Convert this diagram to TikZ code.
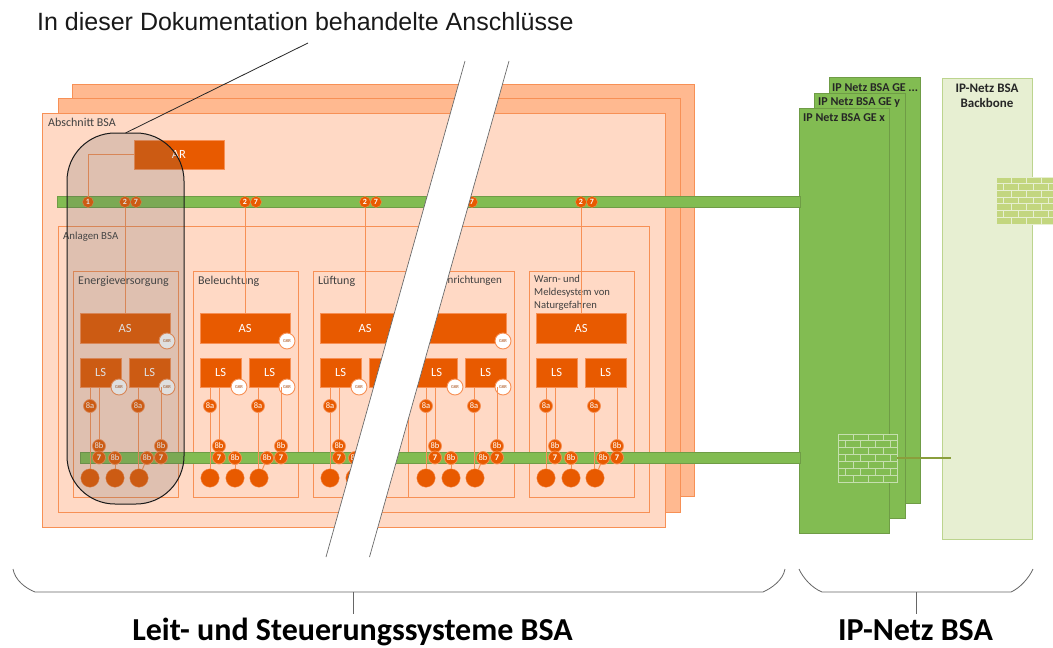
\documentclass[tikz,border=0pt]{standalone}
\usepackage{fontspec}
\setmainfont{Carlito}
\newfontfamily\arialfont{Liberation Sans}
\definecolor{orangeA}{HTML}{E85A00}
\definecolor{orangeL}{HTML}{F79055}
\definecolor{peach}{HTML}{FFD9C5}
\definecolor{peachD}{HTML}{FFB990}
\definecolor{greenA}{HTML}{82BC52}
\definecolor{greenD}{HTML}{6F9C46}
\definecolor{paleG}{HTML}{E7EFD2}
\definecolor{paleGD}{HTML}{BCD48E}
\definecolor{brickA}{HTML}{C5DFAE}
\definecolor{brickB}{HTML}{C3D67F}
\definecolor{linkG}{HTML}{8A9E3C}
\definecolor{bandE}{HTML}{6A6A6A}
\definecolor{overlay}{HTML}{5F5F5F}
\tikzset{
  x=1pt,y=-1pt,
  rectbase/.style={rectangle,inner sep=0pt,outer sep=0pt},
  backbox/.style={rectbase,fill=peachD,draw=orangeL,line width=1pt},
  frontbox/.style={rectbase,fill=peach,draw=orangeL,line width=1pt},
  groupbox/.style={rectbase,draw=orangeL,line width=1pt},
  solid box/.style={rectbase,fill=orangeA,draw=orangeL,line width=.5pt,text=white,font=\fontsize{12.5}{14}\selectfont},
  badge/.style={circle,fill=orangeA,draw=orangeL,line width=.7pt,inner sep=0pt,outer sep=0pt,minimum size=13pt,text=white,font=\fontsize{8.5}{9}\selectfont},
  topbadge/.style={circle,fill=orangeA,draw=orangeL,line width=.3pt,inner sep=0pt,outer sep=0pt,minimum size=11pt,text=white,font=\bfseries\fontsize{8}{9}\selectfont},
  endpoint/.style={circle,fill=orangeA,draw=orangeL,line width=.3pt,inner sep=0pt,outer sep=0pt,minimum size=18.5pt},
  okr/.style={circle,fill=white,draw=orangeL,line width=.9pt,inner sep=0pt,outer sep=0pt,minimum size=16pt,text=orangeA!70!black,font=\fontsize{4.5}{5}\selectfont},
  conn/.style={draw=orangeL,line width=1pt},
  lbl/.style={anchor=west,inner sep=0pt,text=black!75,font=\fontsize{12}{13}\selectfont},
  greenbar/.style={rectbase,fill=greenA,draw=greenD,line width=.6pt},
  ipbox/.style={rectbase,fill=greenA,draw=greenD,line width=.8pt},
  iplbl/.style={anchor=west,inner sep=0pt,text=black!85,font=\bfseries\fontsize{12}{13}\selectfont},
  bracket/.style={draw=black!60,line width=.8pt},
  biglbl/.style={anchor=base,inner sep=0pt,text=black,font=\bfseries\fontsize{32}{34}\selectfont},
}
% name, x1, y1, x2, y2, style, text
\newcommand{\rbox}[7]{%
  \pgfmathsetmacro{\rbw}{#4-#2}\pgfmathsetmacro{\rbh}{#5-#3}%
  \pgfmathsetmacro{\rbx}{(#2+#4)/2}\pgfmathsetmacro{\rby}{(#3+#5)/2}%
  \node[#6,minimum width=\rbw pt,minimum height=\rbh pt] (#1) at (\rbx,\rby) {#7};}
% name, x1, y1, x2, y2, fill, line
\newcommand{\brickwall}[7]{%
  \rbox{#1}{#2}{#3}{#4}{#5}{rectbase,fill=#6,draw=#7,line width=1pt}{}%
  \begin{scope}
    \clip (#2,#3) rectangle (#4,#5);
    \pgfmathsetmacro{\rowh}{(#5-#3)/7}
    \foreach \r in {1,...,6}{\pgfmathsetmacro{\yy}{#3+\r*\rowh}\draw[#7,line width=1pt] (#2,\yy) -- (#4,\yy);}
    \foreach \r in {0,...,6}{
      \pgfmathsetmacro{\yya}{#3+\r*\rowh}\pgfmathsetmacro{\yyb}{\yya+\rowh}
      \pgfmathsetmacro{\shift}{mod(\r,2)*7.5}
      \foreach \c in {0,...,4}{\pgfmathsetmacro{\xx}{#2+\shift+\c*15}\draw[#7,line width=1pt] (\xx,\yya) -- (\xx,\yyb);}
    }
  \end{scope}}
\begin{document}
\begin{tikzpicture}
\useasboundingbox (0,0) rectangle (1053,648);
\clip (0,0) rectangle (1053,648);
\fill[white] (0,0) rectangle (1053,648);
% IP network boxes
\rbox{ipC}{829}{77}{920}{503}{ipbox}{}
\rbox{ipB}{814}{93}{905}{518}{ipbox}{}
\rbox{ipA}{799}{108}{889}{533}{ipbox}{}
\node[iplbl] (ipCt) at (832,88) {IP Netz BSA GE ...};
\node[iplbl] (ipBt) at (818,103) {IP Netz BSA GE y};
\node[iplbl] (ipAt) at (803,118) {IP Netz BSA GE x};
\rbox{bb}{942}{78}{1032}{539}{rectbase,fill=paleG,draw=paleGD,line width=1pt}{}
\node[inner sep=0pt,align=center,text=black!85,font=\bfseries\fontsize{13}{15.5}\selectfont] (bbt) at (987,96) {IP-Netz BSA\\Backbone};
% orange layers
\rbox{layC}{72}{84}{694}{496}{backbox}{}
\rbox{layB}{58}{98}{680}{512}{backbox}{}
\rbox{layA}{42}{113}{665}{527}{frontbox}{}
\node[lbl] (abt) at (48,122) {Abschnitt BSA};
\rbox{anl}{58}{226}{649}{512}{groupbox}{}
\node[lbl,font=\fontsize{10.8}{12}\selectfont] (anlt) at (63,237) {Anlagen BSA};
% group frames
\rbox{g1}{73}{271}{178}{497}{groupbox}{}
\rbox{g2}{193}{271}{298}{497}{groupbox}{}
\rbox{g3}{313}{271}{408}{497}{groupbox}{}
\rbox{g4}{408}{271}{514}{497}{groupbox}{}
\rbox{g5}{529}{271}{634}{497}{groupbox}{}
\node[lbl] (g1t) at (78,281) {Energieversorgung};
\node[lbl] (g2t) at (198,281) {Beleuchtung};
\node[lbl] (g3t) at (318,281) {Lüftung};
\node[lbl,anchor=east,font=\fontsize{11}{13}\selectfont] (g4t) at (502,281) {Einrichtungen};
\node[lbl,align=left,anchor=north west,font=\fontsize{10.6}{13}\selectfont] (g5t) at (534,275) {Warn- und\\Meldesystem von\\Naturgefahren};
% green bars
\rbox{barU}{57}{196}{800}{207}{greenbar}{}
\rbox{barL}{80}{452}{800}{463}{greenbar}{}
% AR
\rbox{ar}{134}{140}{224}{169}{solid box}{AR}
\node[topbadge] (one) at (88,202) {1};
\draw[conn] (ar.west) -| (one.north);
% groups: id / x offset / with-okr / with-top-connection + AS caption / with right-hand badges
\foreach \id/\dx/\hasokr/\hastop/\hasright in {a/0/1/1/1,b/120/1/1/1,c/240/1/1/0,d/336/1/0/1,e/456/0/1/1}{
  \begin{scope}[xshift=\dx pt]
    \rbox{as\id}{80}{313}{170}{343}{solid box}{\ifnum\hastop=1 AS\fi}
    \rbox{lsa\id}{80}{358}{121}{387}{solid box}{LS}
    \rbox{lsb\id}{129}{358}{170}{387}{solid box}{LS}
    \node[topbadge] (tt\id) at (125,202) {2};
    \node[topbadge] (ts\id) at (136,202) {7};
    \ifnum\hastop=1 \draw[conn] (tt\id.south) -- (as\id.north -| tt\id); \fi
    \ifnum\hasokr=1
      \node[okr] (oa\id) at (167,341) {GKR};
      \node[okr] (ob\id) at (119,387) {GKR};
      \node[okr] (oc\id) at (167,387) {GKR};
    \fi
    \node[endpoint] (ca\id) at (90,478) {};
    \node[endpoint] (cb\id) at (115,478) {};
    \node[endpoint] (cc\id) at (139,478) {};
    \node[badge] (ea\id) at (90,406) {8a};
    \node[badge] (eb\id) at (138,406) {8a};
    \node[badge] (fa\id) at (99,446) {8b};
    \node[badge] (sa\id) at (99,457.5) {\textbf{7}};
    \node[badge] (fc\id) at (115,458) {8b};
    \node[badge] (fd\id) at (147,458) {8b};
    \ifnum\hasright=1
      \node[badge] (fb\id) at (161,446) {8b};
      \node[badge] (sb\id) at (161,457.5) {\textbf{7}};
      \draw[conn] (fb\id.north) -- (lsb\id.south -| fb\id);
    \fi
    \draw[conn] (ea\id.north) -- (lsa\id.south -| ea\id);
    \draw[conn] (ea\id.south) -- (ca\id.north);
    \draw[conn] (eb\id.north) -- (lsb\id.south -| eb\id);
    \draw[conn] (eb\id.south) -- (cc\id.north -| eb\id);
    \draw[conn] (fa\id.north) -- (lsa\id.south -| fa\id);
    \draw[conn] (fc\id.south) -- (cb\id.north);
    \draw[conn] (fd\id) -- (cc\id);
  \end{scope}
}
% firewalls
\brickwall{fwA}{838}{434}{897}{482}{greenA}{brickA}
\brickwall{fwB}{996}{177}{1056}{224}{brickB}{paleG}
\coordinate (fwEnd) at (951,458);
\draw[draw=linkG,line width=2pt] (fwA.east) -- (fwEnd);
% highlight
\rbox{hl}{67}{133}{184}{504}{rectbase,draw=black!90,line width=1pt,fill=overlay,fill opacity=.2,rounded corners=48pt}{}
\coordinate (leadEnd) at (308,43);
\draw[black!85,line width=.8pt] (hl.north) -- (leadEnd);
% white cut band
\fill[white] (465,61) -- (509,61) -- (369.5,557) -- (326,557) -- cycle;
\draw[bandE,line width=.7pt] (465,61) -- (326,557) (509,61) -- (369.5,557);
% title
\node[anchor=west,inner sep=0pt,text=black!90,font=\arialfont\fontsize{25}{28}\selectfont] (title) at (37,22) {In dieser Dokumentation behandelte Anschlüsse};
% brackets
\draw[bracket] (13,569) .. controls (15,580) and (25,588) .. (35,592) -- (763,592) .. controls (772,588) and (783,580) .. (785,569);
\draw[bracket] (799,569) .. controls (803,578) and (812,588) .. (822,592) -- (1011,592) .. controls (1020,588) and (1029,578) .. (1033,569);
\node[biglbl] (lblL) at (352.5,640) {Leit- und Steuerungssysteme BSA};
\node[biglbl] (lblR) at (915.5,640) {IP-Netz BSA};
\coordinate (brL) at (353,592);
\coordinate (brR) at (916,592);
\draw[bracket] (brL) -- (353,614);
\draw[bracket] (brR) -- (916,614);
\end{tikzpicture}
\end{document}
